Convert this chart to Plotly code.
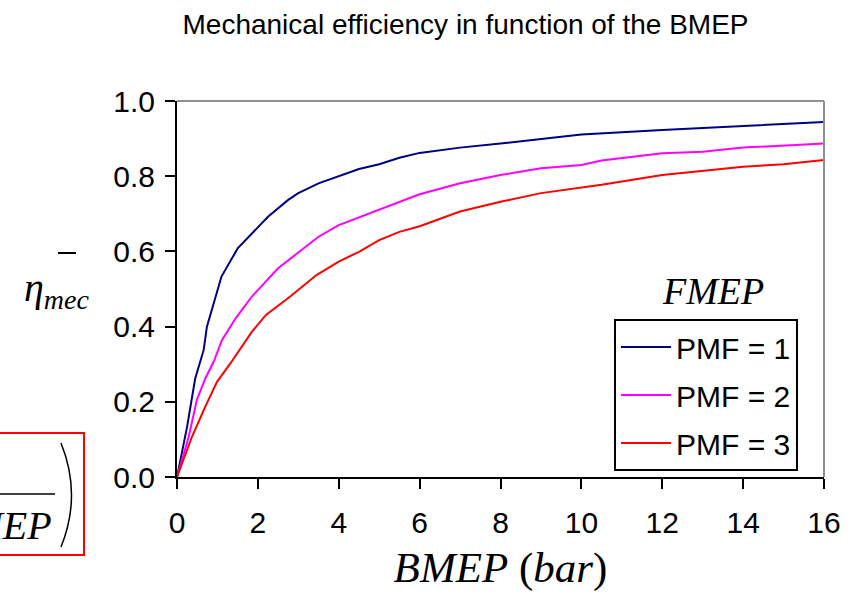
import plotly.graph_objects as go

# Brake mean effective pressure (bar) and mechanical efficiency for each friction level
bmep_pmf1 = [0, 0.25, 0.45, 0.66, 0.74, 0.91, 1.1, 1.5, 1.85, 2.25, 2.75, 3, 3.5, 4,
             4.5, 5, 5.5, 6, 7, 8, 9, 10, 12, 14, 16]
eta_pmf1 = [0, 0.134, 0.262, 0.338, 0.40, 0.462, 0.533, 0.608, 0.648, 0.692, 0.737,
            0.755, 0.781, 0.80, 0.819, 0.832, 0.849, 0.862, 0.876, 0.887, 0.90, 0.911,
            0.923, 0.933, 0.944]

bmep_pmf2 = [0, 0.29, 0.49, 0.7, 0.91, 1.11, 1.45, 1.85, 2, 2.5, 3, 3.5, 4, 4.5, 5, 6,
             7, 8, 9, 10, 10.5, 12, 13, 14, 16]
eta_pmf2 = [0, 0.107, 0.205, 0.262, 0.307, 0.364, 0.422, 0.48, 0.497, 0.555, 0.597,
            0.639, 0.67, 0.691, 0.71, 0.752, 0.781, 0.803, 0.821, 0.830, 0.842, 0.861,
            0.865, 0.876, 0.887]

bmep_pmf3 = [0, 0.37, 0.7, 0.99, 1.32, 1.85, 2.2, 2.8, 3.45, 4, 4.5, 5, 5.5, 6, 7, 8, 9,
             10, 10.5, 12, 14, 15, 16]
eta_pmf3 = [0, 0.107, 0.187, 0.253, 0.302, 0.386, 0.431, 0.48, 0.537, 0.573, 0.599,
            0.630, 0.652, 0.667, 0.706, 0.732, 0.755, 0.770, 0.777, 0.803, 0.825, 0.832,
            0.843]

series = [
    ("PMF = 1", bmep_pmf1, eta_pmf1, "#000080"),
    ("PMF = 2", bmep_pmf2, eta_pmf2, "#FF00FF"),
    ("PMF = 3", bmep_pmf3, eta_pmf3, "#FF0000"),
]

x_ticks = [0, 2, 4, 6, 8, 10, 12, 14, 16]
y_ticks = [0.0, 0.2, 0.4, 0.6, 0.8, 1.0]

W, H = 854, 597
ML, MR, MT, MB = 177, 30, 101, 120
PW, PH = W - ML - MR, H - MT - MB


def px(x):
    return (x - ML) / PW


def py(y):
    return (H - MB - y) / PH


fig = go.Figure()
for name, xs, ys, color in series:
    fig.add_trace(go.Scatter(x=xs, y=ys, mode="lines", name=name, legendgroup=name,
                             line=dict(color=color, width=2)))

serif = "Liberation Serif, Times New Roman, serif"
sans = "Liberation Sans, Arial, sans-serif"

fig.update_layout(
    width=W, height=H,
    margin=dict(l=ML, r=MR, t=MT, b=MB),
    paper_bgcolor="white", plot_bgcolor="white",
    font=dict(family=sans, color="black"),
    title=dict(text="Mechanical efficiency in function of the BMEP",
               x=(183 + 748) / 2 / W, xanchor="center", y=1 - 24 / H, yanchor="middle",
               font=dict(size=28, family=sans)),
    xaxis=dict(range=[0, 16], tickvals=x_ticks, ticks="outside", ticklen=10,
               tickwidth=2, tickcolor="black", showline=True, linecolor="black",
               linewidth=2, showgrid=False, zeroline=False, ticklabelstandoff=8,
               tickfont=dict(size=30, family=sans),
               title=dict(text="<i>BMEP</i> (<i>bar</i>)", standoff=14,
                          font=dict(size=43, family=serif))),
    yaxis=dict(range=[0, 1], tickvals=y_ticks, tickformat=".1f", ticks="outside",
               ticklen=10, tickwidth=2, tickcolor="black", showline=True,
               linecolor="black", linewidth=2, showgrid=False, zeroline=False,
               ticklabelstandoff=4, tickfont=dict(size=30, family=sans)),
    legend=dict(x=px(614), y=py(319), xanchor="left", yanchor="top",
                bordercolor="black", borderwidth=2, bgcolor="white",
                font=dict(size=30, family=sans), itemwidth=50,
                tracegroupgap=6),
    showlegend=True,
)

shapes = [
    # top and right frame of the plot area
    dict(type="line", xref="x domain", yref="y domain", x0=0, x1=1, y0=1, y1=1,
         line=dict(color="#909090", width=2)),
    dict(type="line", xref="x domain", yref="y domain", x0=1, x1=1, y0=0, y1=1,
         line=dict(color="#909090", width=2)),
    # boxed efficiency formula at the lower left
    dict(type="rect", xref="paper", yref="paper", x0=px(-20), x1=px(84),
         y0=py(555), y1=py(433), line=dict(color="#FF0000", width=2),
         fillcolor="rgba(0,0,0,0)", layer="above"),
    dict(type="line", xref="paper", yref="paper", x0=px(-20), x1=px(55),
         y0=py(494), y1=py(494), line=dict(color="black", width=1.5)),
    dict(type="path", xref="paper", yref="paper",
         path=(f"M {px(61)},{py(443)} Q {px(82)},{py(495)} {px(61)},{py(547)}"),
         line=dict(color="black", width=1.5)),
    # bar over the efficiency symbol
    dict(type="line", xref="paper", yref="paper", x0=px(58), x1=px(76),
         y0=py(253), y1=py(253), line=dict(color="black", width=2)),
]
fig.update_layout(shapes=shapes)

annotations = [
    dict(text="<i>η<sub>mec</sub></i>", xref="paper", yref="paper",
         x=px(22), y=py(290), xanchor="left", yanchor="middle", showarrow=False,
         font=dict(size=40, family=serif)),
    dict(text="<i>FMEP</i>", xref="paper", yref="paper", x=px(713), y=py(291),
         xanchor="center", yanchor="middle", showarrow=False,
         font=dict(size=38, family=serif)),
    dict(text="<i>BMEP</i>", xref="paper", yref="paper", x=px(54), y=py(525),
         xanchor="right", yanchor="middle", showarrow=False,
         font=dict(size=40, family=serif)),
]
fig.update_layout(annotations=annotations)

fig.write_html("out.html")
